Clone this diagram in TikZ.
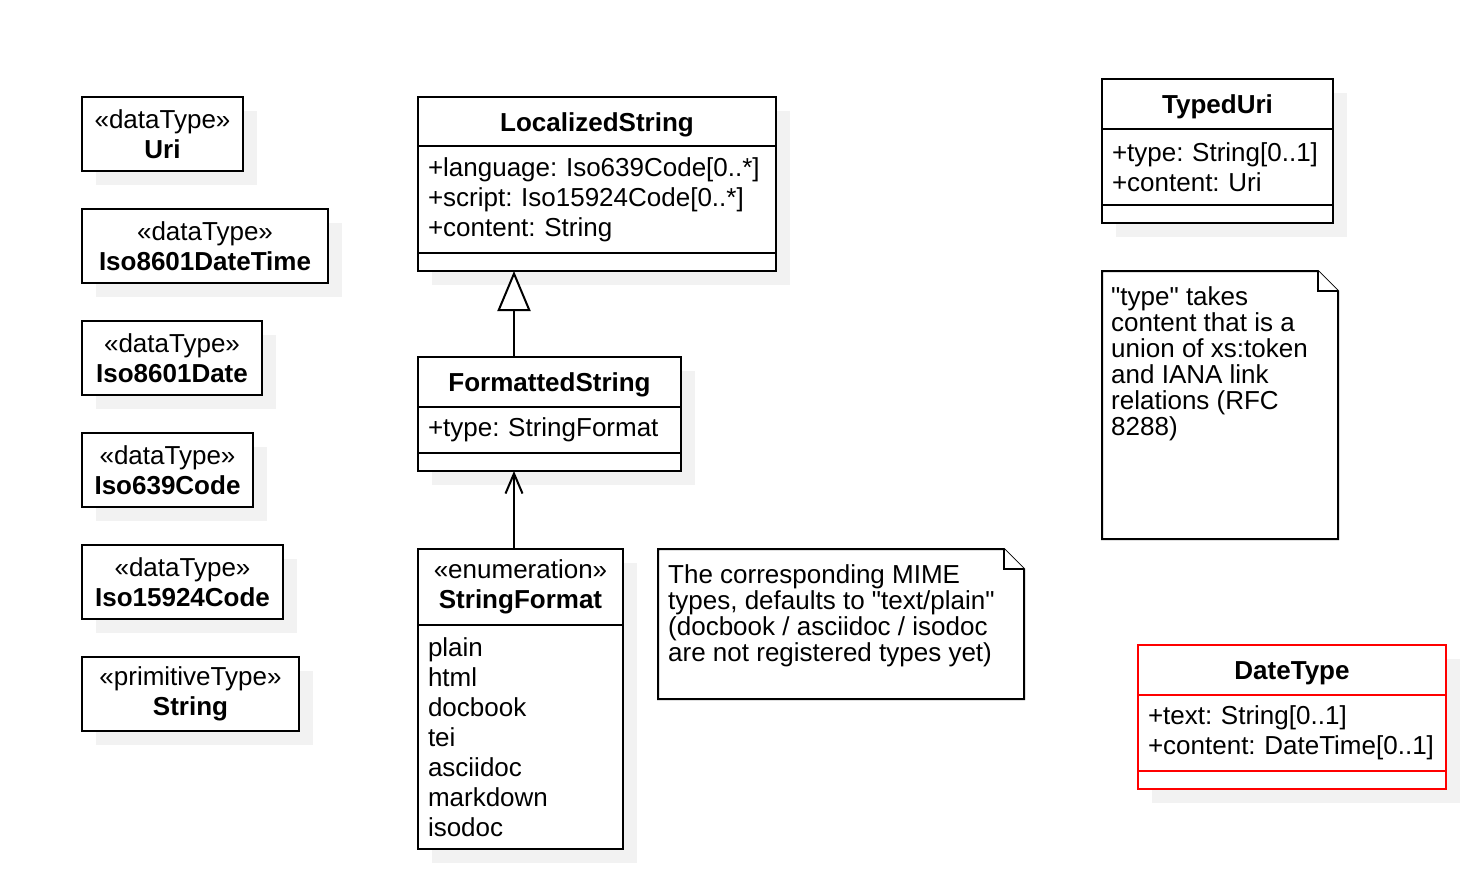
\documentclass[tikz,border=0pt]{standalone}
\usepackage{fontspec}
\setmainfont{Liberation Sans}[Ligatures=TeXOff]
\usetikzlibrary{positioning,shadows,arrows.meta}
\hyphenpenalty=10000

\begin{document}
\begin{tikzpicture}[
        x=1pt, y=-1pt,
        every node/.style={font=\fontsize{26}{30}\selectfont},
        uml_part/.style={rectangle, draw=black, fill=white, line width=2pt, outer sep=0pt, inner sep=0pt,
            drop shadow={shadow xshift=14pt, shadow yshift=-14pt, fill=black!5, draw=none, opacity=1}},
        uml_title/.style={uml_part, font=\fontsize{26}{30}\selectfont\bfseries, text height=19pt, text depth=0pt},
        uml_attrs/.style={uml_part, align=left, inner xsep=10pt},
        data_type/.style={uml_part, align=center, minimum height=74pt},
        note_shape/.style={draw=black, fill=white, line width=2pt},
        note_text/.style={anchor=north west, align=left, inner sep=0pt, font=\fontsize{26}{26}\selectfont},
        generalize/.style={line width=2pt, -{Triangle[length=40pt, width=33pt, fill=white]}},
        navigate/.style={line width=2pt, -{Straight Barb[length=20pt, width=17pt]}}
        ]
            \useasboundingbox (0,0) rectangle (1464,870);

            % data types
            \node[data_type, minimum width=161pt, anchor=north west] (uri) at (82,97) {«dataType»\\\textbf{Uri}};
            \node[data_type, minimum width=246pt, below=38pt of uri.south west, anchor=north west] (iso8601datetime) {«dataType»\\\textbf{Iso8601DateTime}};
            \node[data_type, minimum width=180pt, below=38pt of iso8601datetime.south west, anchor=north west] (iso8601date) {«dataType»\\\textbf{Iso8601Date}};
            \node[data_type, minimum width=171pt, below=38pt of iso8601date.south west, anchor=north west] (iso639code) {«dataType»\\\textbf{Iso639Code}};
            \node[data_type, minimum width=201pt, below=38pt of iso639code.south west, anchor=north west] (iso15924code) {«dataType»\\\textbf{Iso15924Code}};
            \node[data_type, minimum width=217pt, below=38pt of iso15924code.south west, anchor=north west] (string) {«primitiveType»\\\textbf{String}};

            % LocalizedString
            \node[uml_title, minimum width=358pt, minimum height=49pt, anchor=north west] (localized_title) at (418,97) {LocalizedString};
            \node[uml_attrs, text width=338pt, minimum height=107pt, below=0pt of localized_title] (localized_attrs) {+language:~Iso639Code[0..*]\\+script:~Iso15924Code[0..*]\\+content:~String};
            \node[uml_part, minimum width=358pt, minimum height=18pt, below=0pt of localized_attrs] (localized_ops) {};
            % FormattedString
            \node[uml_title, minimum width=263pt, minimum height=50pt, anchor=north west] (formatted_title) at (418,357) {FormattedString};
            \node[uml_attrs, text width=243pt, minimum height=46pt, below=0pt of formatted_title] (formatted_attrs) {+type:~StringFormat};
            \node[uml_part, minimum width=263pt, minimum height=18pt, below=0pt of formatted_attrs] (formatted_ops) {};
            % StringFormat
            \node[uml_part, align=center, minimum width=205pt, minimum height=76pt, anchor=north west] (stringformat_title) at (418,549) {«enumeration»\\\textbf{StringFormat}};
            \node[uml_attrs, text width=185pt, minimum height=224pt, below=0pt of stringformat_title] (stringformat_literals) {plain\\html\\docbook\\tei\\asciidoc\\markdown\\isodoc};
            % TypedUri
            \node[uml_title, minimum width=231pt, minimum height=50pt, anchor=north west] (typeduri_title) at (1102,79) {TypedUri};
            \node[uml_attrs, text width=211pt, minimum height=76pt, below=0pt of typeduri_title] (typeduri_attrs) {+type:~String[0..1]\\+content:~Uri};
            \node[uml_part, minimum width=231pt, minimum height=18pt, below=0pt of typeduri_attrs] (typeduri_ops) {};
            % DateType
            \node[uml_title, draw=red, minimum width=308pt, minimum height=50pt, anchor=north west] (datetype_title) at (1138,645) {DateType};
            \node[uml_attrs, draw=red, text width=288pt, minimum height=76pt, below=0pt of datetype_title] (datetype_attrs) {+text:~String[0..1]\\+content:~DateTime[0..1]};
            \node[uml_part, draw=red, minimum width=308pt, minimum height=18pt, below=0pt of datetype_attrs] (datetype_ops) {};

            % notes
            \draw[note_shape] (658,549) -- (1004,549) -- (1024,569) -- (1024,699) -- (658,699) -- cycle;
            \draw[note_shape] (1004,549) |- (1024,569);
            \node[note_text] (mime_note) at (668,564) {The corresponding MIME\\types, defaults to "text/plain"\\(docbook / asciidoc / isodoc\\are not registered types yet)};
            \draw[note_shape] (1102,271) -- (1318,271) -- (1338,291) -- (1338,539) -- (1102,539) -- cycle;
            \draw[note_shape] (1318,271) |- (1338,291);
            \node[note_text] (type_note) at (1111,286) {"type" takes\\content that is a\\union of xs:token\\and IANA link\\relations (RFC\\8288)};

            % Lines
            \coordinate (gen_from) at ([xshift=96pt]formatted_title.north west);
            \draw[generalize] (gen_from) -- (gen_from |- localized_ops.south);
            \coordinate (dep_from) at ([xshift=96pt]stringformat_title.north west);
            \draw[navigate] (dep_from) -- (dep_from |- formatted_ops.south);
        \end{tikzpicture}
\end{document}
